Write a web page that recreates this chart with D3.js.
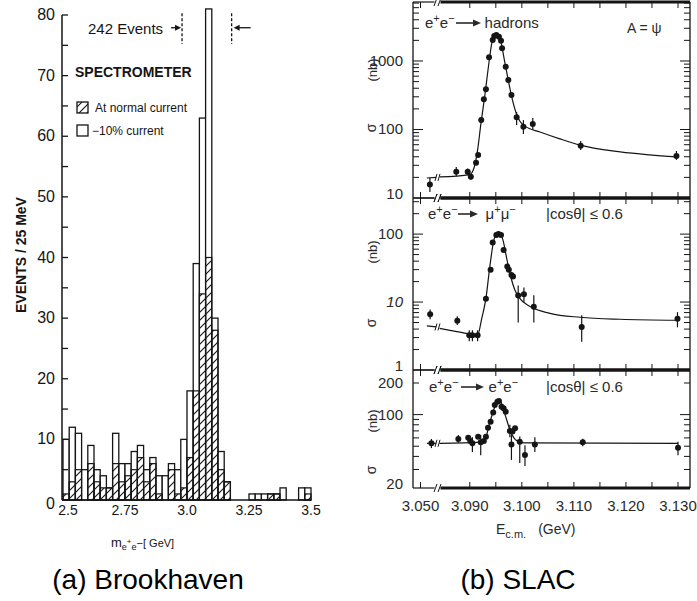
<!DOCTYPE html>
<html>
<head>
<meta charset="utf-8">
<script src="https://cdn.jsdelivr.net/npm/d3@7"></script>
<style>
  body { margin: 0; background: #fff; }
  text { font-family: "Liberation Sans", Arial, sans-serif; }
</style>
</head>
<body>
<svg id="chart" width="697" height="601"></svg>
<script>
// ***** Brookhaven: e+e- mass spectrum, 25 MeV bins starting at 2.5 GeV *****
const massStart = 2.5;
const massBinWidth = 0.025;
const eventsAll = [10, 12, 11, 5, 9, 5, 4, 2, 11, 6, 6, 8, 9, 5, 7, 4, 4, 6, 5, 10,
                   18, 39, 63, 81, 30, 8, 3, 0, 0, 0, 1, 1, 1, 1, 1, 2, 0, 0, 2, 2];
const eventsNormal = [1, 3, 5, 0, 6, 3, 2, 2, 6, 3, 4, 5, 7, 3, 6, 1, 0, 5, 1, 2,
                      7, 18, 34, 40, 28, 5, 3, 0, 0, 0, 0, 0, 0, 1, 1, 0, 0, 0, 0, 1];
const massTicks = [2.5, 2.75, 3.0, 3.25, 3.5];
const massTickLabels = ["2.5", "2.75", "3.0", "3.25", "3.5"];
const countTicks = [0, 10, 20, 30, 40, 50, 60, 70, 80];
const countMinorTicks = [5, 15, 25, 35, 45, 55, 65, 75];
const peakWindow = [2.98, 3.18];

// ***** SLAC: cross sections vs centre-of-mass energy *****
const energyTicks = [3.050, 3.090, 3.100, 3.110, 3.120, 3.130];
const energyTickLabels = ["3.050", "3.090", "3.100", "3.110", "3.120", "3.130"];
const energyMinorTicks = [3.095, 3.105, 3.115, 3.125];

// [E (GeV), sigma (nb), error low, error high]
const hadronPoints = [
  [3.0537, 15.8, 12.2, 19.6], [3.0874, 24.2, 20.9, 28.3], [3.0896, 24.2, 21.5, 27.0],
  [3.0902, 20.5, 18.5, 22.5], [3.0912, 32.7, 30, 36], [3.0916, 42.5], [3.0922, 138],
  [3.0927, 276], [3.0931, 386], [3.0937, 1133], [3.0944, 2028], [3.0947, 2318],
  [3.0951, 2400], [3.0956, 2264], [3.0960, 1977], [3.0962, 1531], [3.0969, 826],
  [3.0974, 528], [3.0980, 319], [3.0990, 151, 116, 180], [3.1003, 110, 86, 137],
  [3.1021, 120, 98, 147], [3.1113, 58, 50, 68], [3.1297, 41, 36, 48.5]
];
const hadronFitLow = [[3.0525, 19.6], [3.0562, 20.0]];
const hadronFitHigh = [
  [3.0842, 20.3], [3.0900, 22.0], [3.0908, 27.4], [3.0915, 50], [3.0921, 116],
  [3.0929, 319], [3.0937, 966], [3.0942, 1771], [3.0949, 2478], [3.0954, 2437],
  [3.0960, 1893], [3.0965, 1183], [3.0973, 565], [3.0981, 289], [3.0989, 174],
  [3.0996, 133], [3.1006, 112], [3.1035, 92], [3.1073, 73], [3.1112, 59],
  [3.1189, 47], [3.1246, 42.5], [3.1298, 39.7]
];

const muonPoints = [
  [3.0538, 6.6, 5.6, 7.8], [3.0876, 5.3, 4.6, 6.2], [3.0899, 3.25, 2.66, 3.85],
  [3.0905, 3.25, 2.66, 3.85], [3.0915, 3.25, 2.66, 3.85], [3.0931, 11.2],
  [3.0940, 29.8], [3.0944, 75.5], [3.0951, 97], [3.0955, 100], [3.0960, 97],
  [3.0965, 58.5], [3.0972, 33.3], [3.0975, 29.8], [3.0980, 25.1], [3.0983, 23.8],
  [3.0993, 12.5, 5.0, 17.5], [3.1004, 13, 9.9, 16.4], [3.1023, 8.5, 5.0, 12.6],
  [3.1115, 4.3, 2.6, 6.4], [3.1299, 5.7, 4.25, 7.1]
];
const muonFitLow = [[3.0525, 4.45], [3.0562, 4.3]];
const muonFitHigh = [
  [3.0842, 4.1], [3.0890, 3.5], [3.0915, 3.25], [3.0923, 5.77], [3.0931, 11.3],
  [3.0938, 31.1], [3.0946, 80], [3.0952, 101], [3.0958, 105], [3.0964, 80],
  [3.0971, 43.6], [3.0979, 23], [3.0987, 14.8], [3.0996, 11.3], [3.1015, 8.65],
  [3.1054, 6.83], [3.1112, 5.97], [3.1189, 5.58], [3.1298, 5.4]
];

const bhabhaPoints = [
  [3.0543, 53.3, 48, 58.6], [3.0878, 58.6, 54, 64], [3.0897, 60.2], [3.0901, 56.1],
  [3.0905, 53.3, 44, 61], [3.0916, 61.7], [3.0921, 54.5, 41, 64], [3.0927, 56.1],
  [3.0931, 61.7], [3.0935, 75], [3.0940, 85.5], [3.0945, 105], [3.0948, 123.5],
  [3.0953, 132.8], [3.0956, 135], [3.0961, 119], [3.0965, 114.8], [3.0969, 106.6],
  [3.0977, 69.8, 61, 80], [3.0980, 52, 37, 64], [3.0982, 69], [3.0987, 74.2],
  [3.0996, 55.2, 34.6, 62], [3.1006, 41.2, 32.4, 51], [3.1025, 52, 44, 61],
  [3.1117, 54.5, 50, 59], [3.1300, 48.4, 41, 55]
];
const bhabhaFitLow = [[3.0525, 53.3], [3.0562, 53.3]];
const bhabhaFitHigh = [
  [3.0842, 53.3], [3.0920, 54.8], [3.0931, 61.2], [3.0937, 79.7], [3.0944, 103.6],
  [3.0950, 126], [3.0955, 138.6], [3.0960, 131.8], [3.0965, 110.6], [3.0971, 88.9],
  [3.0977, 71.3], [3.0985, 59.8], [3.0992, 55.7], [3.1000, 54.2], [3.1010, 53.7],
  [3.1300, 53.3]
];

const svg = d3.select("#chart");
const ink = "#151515";

// diagonal hatching for the normal-current events
svg.append("defs").append("pattern")
  .attr("id", "hatch")
  .attr("patternUnits", "userSpaceOnUse")
  .attr("width", 8).attr("height", 8)
  .append("path")
  .attr("d", "M-2,2 l4,-4 M0,8 l8,-8 M6,10 l4,-4")
  .attr("stroke", ink).attr("stroke-width", 1.1);

// ================= left: Brookhaven =================
const xM = d3.scaleLinear().domain([2.5, 3.5]).range([63, 311]);
const yN = d3.scaleLinear().domain([0, 80]).range([500, 15]);
const gL = svg.append("g");

const bins = eventsAll.map(function(n, i) {
  return {
    lo: massStart + i * massBinWidth,
    hi: massStart + (i + 1) * massBinWidth,
    all: n,
    normal: eventsNormal[i]
  };
});

// open bins (all events) then hatched bins on top
gL.selectAll(".binAll")
  .data(bins.filter(d => d.all > 0))
  .enter().append("rect")
  .attr("class", "binAll")
  .attr("x", d => xM(d.lo))
  .attr("width", d => xM(d.hi) - xM(d.lo))
  .attr("y", d => yN(d.all))
  .attr("height", d => yN(0) - yN(d.all))
  .attr("fill", "#fff")
  .attr("stroke", ink).attr("stroke-width", 1.3);

gL.selectAll(".binNormal")
  .data(bins.filter(d => d.normal > 0))
  .enter().append("rect")
  .attr("class", "binNormal")
  .attr("x", d => xM(d.lo))
  .attr("width", d => xM(d.hi) - xM(d.lo))
  .attr("y", d => yN(d.normal))
  .attr("height", d => yN(0) - yN(d.normal))
  .attr("fill", "url(#hatch)")
  .attr("stroke", ink).attr("stroke-width", 1.2);

// axes
gL.append("line")
  .attr("x1", xM(2.5) - 1).attr("x2", xM(2.5) - 1)
  .attr("y1", yN(0)).attr("y2", yN(80))
  .attr("stroke", ink).attr("stroke-width", 1.5);
gL.append("line")
  .attr("x1", xM(2.5) - 1).attr("x2", xM(3.5))
  .attr("y1", yN(0)).attr("y2", yN(0))
  .attr("stroke", ink).attr("stroke-width", 1.5);

gL.selectAll(".yTick")
  .data(countTicks.concat(countMinorTicks))
  .enter().append("line")
  .attr("x1", xM(2.5) - 1).attr("x2", xM(2.5) + 5)
  .attr("y1", d => yN(d)).attr("y2", d => yN(d))
  .attr("stroke", ink).attr("stroke-width", 1.3);

gL.selectAll(".yLabel")
  .data(countTicks)
  .enter().append("text")
  .attr("x", xM(2.5) - 8)
  .attr("y", d => yN(d) + (d === 0 ? 9 : 5))
  .attr("text-anchor", "end")
  .attr("font-size", 16)
  .attr("fill", ink)
  .text(d => d);

gL.selectAll(".xLabel")
  .data(massTicks)
  .enter().append("text")
  .attr("x", (d, i) => xM(d) + (i === 0 ? 5 : 0))
  .attr("y", 515)
  .attr("text-anchor", "middle")
  .attr("font-size", 14)
  .attr("fill", ink)
  .text((d, i) => massTickLabels[i]);

gL.append("text")
  .attr("transform", "translate(26,255) rotate(-90)")
  .attr("text-anchor", "middle")
  .attr("font-size", 14).attr("font-weight", "bold")
  .attr("fill", ink)
  .text("EVENTS / 25 MeV");

const mLabel = gL.append("text")
  .attr("x", 111).attr("y", 547)
  .attr("font-size", 13).attr("fill", ink);
mLabel.append("tspan").text("m");
mLabel.append("tspan").attr("font-size", 9).attr("dy", 3).text("e");
mLabel.append("tspan").attr("font-size", 8).attr("dy", -6).text("+");
mLabel.append("tspan").attr("font-size", 9).attr("dy", 6).text("e");
mLabel.append("tspan").attr("font-size", 11).attr("dy", -3).text("\u2212[ GeV]");

// mass window for the 242 events
const windowTop = 80.3, windowBottom = 75.2, arrowLevel = 77.9;
gL.selectAll(".window")
  .data(peakWindow)
  .enter().append("line")
  .attr("x1", d => xM(d)).attr("x2", d => xM(d))
  .attr("y1", yN(windowTop)).attr("y2", yN(windowBottom))
  .attr("stroke", ink).attr("stroke-width", 1.3)
  .attr("stroke-dasharray", "3,2");

function arrow(g, x1, x2, y) {
  const dir = Math.sign(x2 - x1);
  g.append("line")
    .attr("x1", x1).attr("x2", x2 - dir * 3)
    .attr("y1", y).attr("y2", y)
    .attr("stroke", ink).attr("stroke-width", 1.3);
  g.append("path")
    .attr("d", `M${x2},${y} l${-dir * 6},-3 l0,6 z`)
    .attr("fill", ink);
}
arrow(gL, xM(peakWindow[0]) - 11, xM(peakWindow[0]) - 1, yN(arrowLevel));
arrow(gL, xM(peakWindow[1]) + 19, xM(peakWindow[1]) + 2, yN(arrowLevel));

gL.append("text")
  .attr("x", 88).attr("y", 34)
  .attr("font-size", 15).attr("fill", ink)
  .text("242 Events");

gL.append("text")
  .attr("x", 75).attr("y", 77)
  .attr("font-size", 14).attr("font-weight", "bold").attr("fill", ink)
  .text("SPECTROMETER");

gL.append("rect")
  .attr("x", 77).attr("y", 102).attr("width", 11).attr("height", 11)
  .attr("fill", "url(#hatch)").attr("stroke", ink).attr("stroke-width", 1.3);
gL.append("text")
  .attr("x", 95).attr("y", 112)
  .attr("font-size", 12).attr("fill", ink)
  .text("At normal current");
gL.append("rect")
  .attr("x", 77).attr("y", 125).attr("width", 11).attr("height", 11)
  .attr("fill", "#fff").attr("stroke", ink).attr("stroke-width", 1.3);
gL.append("text")
  .attr("x", 92).attr("y", 135)
  .attr("font-size", 12).attr("fill", ink)
  .text("\u221210% current");

// ================= right: SLAC =================
const frameL = 413, frameR = 690, breakX = 437.5;
const xE = d3.scaleLinear()
  .domain([3.050, 3.0565, 3.0837, 3.130])
  .range([420.5, 437, 437, 678]);

const panels = [
  {
    y: d3.scaleLog().domain([10, 7260]).range([198, 2]),
    labels: [10, 100, 1000], labelText: ["10", "100", "1000"],
    pts: hadronPoints, fits: [hadronFitLow, hadronFitHigh], unitY: 70, sigmaY: 128
  },
  {
    y: d3.scaleLog().domain([1, 340]).range([370, 198]),
    labels: [1, 10, 100], labelText: ["1", "10", "100"], italic: "10",
    pts: muonPoints, fits: [muonFitLow, muonFitHigh], unitY: 252, sigmaY: 323
  },
  {
    y: d3.scaleLog().domain([20, 266]).range([488, 370]),
    labels: [20, 100, 200], labelText: ["20", "100", "200"],
    pts: bhabhaPoints, fits: [bhabhaFitLow, bhabhaFitHigh], unitY: 421, sigmaY: 470
  }
];

const gR = svg.append("g");
const grey = "#2a2a2a";

function breakMarks(g, x, y) {
  g.append("rect").attr("x", x - 2).attr("y", y - 2).attr("width", 4).attr("height", 4).attr("fill", "#fff");
  [-2, 2].forEach(function(off) {
    g.append("line")
      .attr("x1", x + off - 1.5).attr("x2", x + off + 1.5)
      .attr("y1", y + 4).attr("y2", y - 4)
      .attr("stroke", ink).attr("stroke-width", 1);
  });
}

function drawPanel(p) {
  const g = gR.append("g");
  const [v0, v1] = p.y.domain();
  const yTop = p.y(v1), yBot = p.y(v0);

  // log ticks on both side frames
  const ticks = [];
  for (let k = Math.floor(Math.log10(v0)); k <= Math.ceil(Math.log10(v1)); k++) {
    for (let m = 1; m <= 9; m++) {
      const v = m * Math.pow(10, k);
      if (v > v0 * 1.001 && v < v1 * 0.999) ticks.push({ v: v, major: m === 1 });
    }
  }
  g.selectAll(".tl").data(ticks).enter().append("line")
    .attr("x1", frameL).attr("x2", d => frameL + (d.major ? 10 : 6))
    .attr("y1", d => p.y(d.v)).attr("y2", d => p.y(d.v))
    .attr("stroke", ink).attr("stroke-width", 1);
  g.selectAll(".tr").data(ticks).enter().append("line")
    .attr("x1", frameR).attr("x2", d => frameR - (d.major ? 10 : 6))
    .attr("y1", d => p.y(d.v)).attr("y2", d => p.y(d.v))
    .attr("stroke", ink).attr("stroke-width", 1);

  // energy ticks on top and bottom frames
  const eTicks = energyTicks.concat(energyMinorTicks);
  g.selectAll(".tb").data(eTicks).enter().append("line")
    .attr("x1", d => xE(d)).attr("x2", d => xE(d))
    .attr("y1", yBot).attr("y2", yBot - 6)
    .attr("stroke", ink).attr("stroke-width", 1);
  g.selectAll(".tt").data(eTicks).enter().append("line")
    .attr("x1", d => xE(d)).attr("x2", d => xE(d))
    .attr("y1", yTop).attr("y2", yTop + 6)
    .attr("stroke", ink).attr("stroke-width", 1);

  // frame: thin left of the axis break, heavy to the right
  [yTop, yBot].forEach(function(yy) {
    g.append("line").attr("x1", frameL).attr("x2", breakX - 3)
      .attr("y1", yy).attr("y2", yy).attr("stroke", ink).attr("stroke-width", 1.2);
    g.append("line").attr("x1", breakX + 3).attr("x2", frameR)
      .attr("y1", yy).attr("y2", yy).attr("stroke", ink).attr("stroke-width", 2.8);
    breakMarks(g, breakX, yy);
  });
  [frameL, frameR].forEach(function(xx) {
    g.append("line").attr("x1", xx).attr("x2", xx)
      .attr("y1", yTop).attr("y2", yBot).attr("stroke", ink).attr("stroke-width", 1.3);
  });

  // value labels; the one on the lower frame edge sits a little higher
  g.selectAll(".yl").data(p.labels).enter().append("text")
    .attr("x", frameL - 10)
    .attr("y", d => p.y(d) + (d === v0 ? 1 : 5))
    .attr("text-anchor", "end")
    .attr("font-size", 15)
    .attr("font-style", (d, i) => p.labelText[i] === p.italic ? "italic" : "normal")
    .attr("fill", grey)
    .text((d, i) => p.labelText[i]);

  g.append("text")
    .attr("transform", `translate(377,${p.unitY}) rotate(-90)`)
    .attr("text-anchor", "middle").attr("font-size", 13).attr("fill", grey)
    .text("(nb)");
  g.append("text")
    .attr("transform", `translate(376,${p.sigmaY}) rotate(-90)`)
    .attr("text-anchor", "middle").attr("font-size", 14).attr("fill", grey)
    .text("\u03c3");

  // fitted curve, broken at the axis gap
  const line = d3.line()
    .x(d => xE(d[0]))
    .y(d => p.y(d[1]))
    .curve(d3.curveMonotoneX);
  p.fits.forEach(function(seg) {
    g.append("path").attr("d", line(seg))
      .attr("fill", "none").attr("stroke", ink).attr("stroke-width", 1.2);
  });
  const yGap = p.y(p.fits[0][p.fits[0].length - 1][1]);
  [-1.5, 1.5].forEach(function(off) {
    g.append("line")
      .attr("x1", breakX + off - 1).attr("x2", breakX + off + 1)
      .attr("y1", yGap + 3.5).attr("y2", yGap - 3.5)
      .attr("stroke", ink).attr("stroke-width", 1);
  });

  // error bars and points
  g.selectAll(".err").data(p.pts.filter(d => d.length > 2)).enter().append("line")
    .attr("x1", d => xE(d[0])).attr("x2", d => xE(d[0]))
    .attr("y1", d => p.y(d[2])).attr("y2", d => p.y(d[3]))
    .attr("stroke", ink).attr("stroke-width", 1.2);
  g.selectAll(".pt").data(p.pts).enter().append("circle")
    .attr("cx", d => xE(d[0]))
    .attr("cy", d => p.y(d[1]))
    .attr("r", 3)
    .attr("fill", ink);
}

panels.forEach(drawPanel);

// energy axis labels
gR.selectAll(".xl").data(energyTicks).enter().append("text")
  .attr("x", d => xE(d)).attr("y", 511)
  .attr("text-anchor", "middle").attr("font-size", 15).attr("fill", grey)
  .text((d, i) => energyTickLabels[i]);

const eLabel = gR.append("text").attr("x", 496).attr("y", 534)
  .attr("font-size", 14).attr("fill", grey);
eLabel.append("tspan").text("E");
eLabel.append("tspan").attr("font-size", 11).attr("dy", 4).text("c.m.");
eLabel.append("tspan").attr("dy", -4).attr("dx", 12).text("(GeV)");

// reaction labels
function reaction(x, y, parts) {
  const t = gR.append("text").attr("x", x).attr("y", y).attr("font-size", 15).attr("fill", grey);
  parts.forEach(function(pt) {
    const s = t.append("tspan").text(pt[0]);
    if (pt[1] === "sup") s.attr("font-size", 11).attr("dy", -6);
    if (pt[1] === "down") s.attr("dy", 6);
    if (pt[1] === "dx") s.attr("dx", pt[2]);
    if (pt[1] === "downdx") s.attr("dy", 6).attr("dx", pt[2]);
  });
}
function reactionArrow(x1, x2, y) {
  gR.append("line").attr("x1", x1).attr("x2", x2 - 5).attr("y1", y).attr("y2", y)
    .attr("stroke", grey).attr("stroke-width", 1.6);
  gR.append("path").attr("d", `M${x2},${y} l-8,-3.5 l0,7 z`).attr("fill", grey);
}

reaction(425, 28, [["e"], ["+", "sup"], ["e", "down"], ["\u2212", "sup"], ["hadrons", "downdx", 30]]);
reactionArrow(456, 481, 23);
gR.append("text").attr("x", 627).attr("y", 33).attr("font-size", 14).attr("fill", grey).text("A = \u03c8");

reaction(428, 219, [["e"], ["+", "sup"], ["e", "down"], ["\u2212", "sup"], ["\u03bc", "downdx", 28], ["+", "sup"], ["\u03bc", "down"], ["\u2212", "sup"]]);
reactionArrow(458, 478, 214);
gR.append("text").attr("x", 546).attr("y", 219).attr("font-size", 15).attr("fill", grey).text("|cos\u03b8| \u2264 0.6");

reaction(429, 392, [["e"], ["+", "sup"], ["e", "down"], ["\u2212", "sup"], ["e", "downdx", 30], ["+", "sup"], ["e", "down"], ["\u2212", "sup"]]);
reactionArrow(461, 484, 387);
gR.append("text").attr("x", 546).attr("y", 392).attr("font-size", 15).attr("fill", grey).text("|cos\u03b8| \u2264 0.6");

// captions
svg.append("text").attr("x", 148).attr("y", 589).attr("text-anchor", "middle")
  .attr("font-family", "DejaVu Sans").attr("font-size", 28).attr("fill", "#000")
  .text("(a) Brookhaven");
svg.append("text").attr("x", 518).attr("y", 589).attr("text-anchor", "middle")
  .attr("font-family", "DejaVu Sans").attr("font-size", 28).attr("fill", "#000")
  .text("(b) SLAC");
</script>
</body>
</html>
